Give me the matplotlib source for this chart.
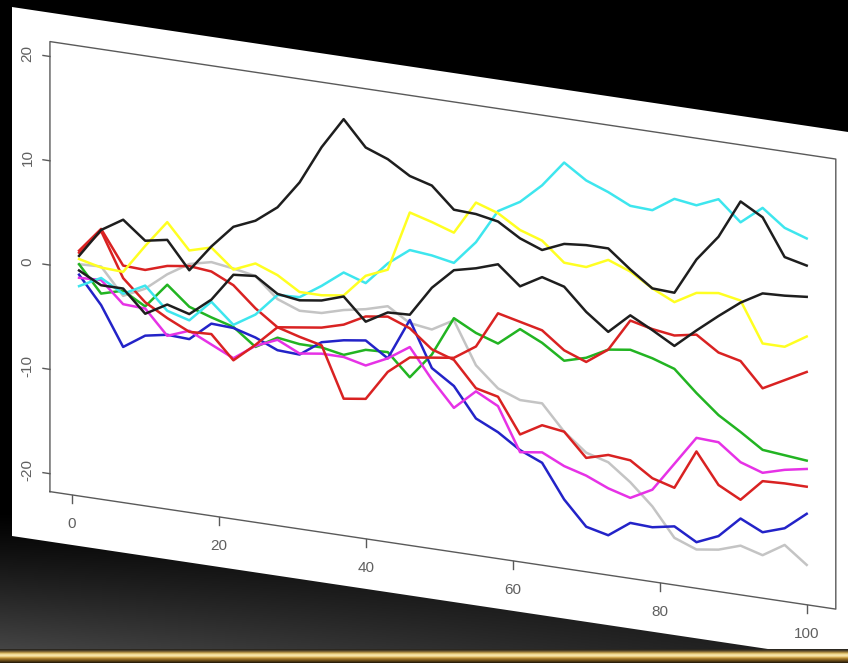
import numpy as np
import matplotlib
matplotlib.use("Agg")
from matplotlib import pyplot as plt
from matplotlib.transforms import Affine2D
from matplotlib.patches import Polygon

# time steps (every third step of the walk)
steps = [1, 4, 7, 10, 13, 16, 19, 22, 25, 28, 31, 34, 37, 40, 43, 46, 49,
         52, 55, 58, 61, 64, 67, 70, 73, 76, 79, 82, 85, 88, 91, 94, 97, 100]

black_a = [1.3, 4.1, 5.4, 3.7, 4.1, 1.5, 4.1, 6.3, 7.2, 8.8, 11.5, 15.2, 18.2, 15.8, 15.0, 13.7, 13.1,
           11.1, 11.0, 10.6, 9.3, 8.5, 9.4, 9.6, 9.6, 7.9, 6.4, 6.3, 9.8, 12.3, 16.0, 14.8, 11.3, 10.8]
black_b = [-0.1, -1.2, -1.2, -3.3, -2.1, -2.7, -1.0, 1.7, 1.9, 0.5, 0.2, 0.5, 1.2, -0.9, 0.3, 0.4, 3.3,
           5.3, 5.8, 6.5, 4.7, 5.9, 5.3, 3.2, 1.6, 3.5, 2.4, 1.2, 3.0, 4.7, 6.3, 7.5, 7.6, 7.8]
cyan = [-1.6, -0.5, -1.7, -0.6, -2.7, -3.3, -1.2, -3.1, -1.8, 0.4, 0.5, 1.9, 3.5, 2.8, 5.0, 6.6, 6.4,
        6.0, 8.3, 11.6, 12.8, 14.7, 17.2, 15.8, 15.0, 14.0, 13.9, 15.3, 15.0, 15.9, 14.0, 15.7, 14.1, 13.4]
yellow = [1.0, 0.5, 0.4, 3.2, 5.8, 3.4, 4.0, 2.2, 3.1, 2.3, 1.0, 1.0, 1.3, 3.5, 4.4, 10.2, 9.6,
          8.9, 12.1, 11.4, 10.1, 9.4, 7.6, 7.5, 8.5, 7.7, 6.4, 5.4, 6.6, 6.9, 6.5, 2.7, 2.7, 4.0]
grey = [0.5, 0.6, -1.9, -0.9, 0.8, 2.1, 2.6, 2.3, 1.9, 0.0, -0.8, -0.7, -0.1, 0.3, 0.9, -0.4, -0.7,
        0.5, -3.5, -5.4, -6.2, -6.2, -8.6, -10.3, -10.9, -12.5, -14.5, -17.2, -18.0, -17.7, -17.0, -17.6, -16.3, -17.9]
green = [0.5, -2.0, -1.4, -2.6, -0.2, -2.0, -2.7, -3.3, -4.9, -3.7, -4.0, -4.0, -4.4, -3.6, -3.5, -5.6, -3.1,
         0.7, -0.4, -1.1, 0.6, -0.4, -1.8, -1.2, -0.1, 0.2, -0.3, -1.0, -3.0, -4.8, -6.1, -7.5, -7.7, -7.9]
blue = [-0.5, -3.1, -6.8, -5.4, -5.0, -5.1, -3.3, -3.4, -4.0, -4.9, -5.0, -3.5, -3.0, -2.7, -4.1, -0.1, -4.4,
        -5.8, -8.6, -9.6, -11.0, -11.9, -15.1, -17.4, -17.9, -16.4, -16.5, -16.1, -17.3, -16.4, -14.4, -15.4, -14.7, -13.0]
magenta = [-0.8, -0.7, -2.7, -2.8, -5.1, -4.3, -5.3, -6.3, -4.8, -3.9, -4.9, -4.6, -4.6, -5.1, -4.1, -2.7, -5.5,
           -7.9, -6.0, -7.1, -11.2, -10.9, -11.9, -12.5, -13.4, -14.0, -12.9, -10.1, -7.3, -7.4, -9.0, -9.7, -9.1, -8.7]
red_a = [1.8, 4.2, 1.0, 0.9, 1.6, 1.9, 1.7, 0.7, -1.2, -2.7, -2.4, -2.1, -1.5, -0.4, -0.1, -0.9, -2.6,
         -3.3, -5.7, -6.2, -9.5, -8.3, -8.6, -10.8, -10.2, -10.4, -11.8, -12.4, -8.6, -11.5, -12.6, -10.5, -10.4, -10.4]
red_b = [1.6, 4.0, -0.2, -2.2, -3.4, -4.4, -4.3, -6.5, -4.7, -2.7, -3.3, -3.8, -8.6, -8.3, -5.4, -3.7, -3.4,
         -3.1, -1.7, 1.8, 1.3, 0.8, -0.8, -1.6, -0.1, 3.0, 2.5, 2.2, 2.6, 1.2, 0.7, -1.6, -0.5, 0.6]

x_ticks = [0, 20, 40, 60, 80, 100]
y_ticks = [-20, -10, 0, 10, 20]

W, H = 848, 663
fig = plt.figure(figsize=(W / 100, H / 100), dpi=100, facecolor="black")
ax = fig.add_axes([0, 0, 1, 1])
ax.set_facecolor("black")
ax.axis("off")

# floor under the slide: dark, lighter toward the lower left
fy = np.linspace(0, 1, 140)[:, None]
fx = np.linspace(0, 1, 200)[None, :]
floor = 0.27 * fy ** 1.2 * (1 - 0.6 * fx)
ax.imshow(np.dstack([floor] * 3), extent=(0, W, 650, 510), aspect="auto", zorder=0)

# gold rule at the very bottom
gold = ["#2c2820", "#4a3e28", "#7a6436", "#b09048", "#dcc070", "#f2dc9a", "#f6e4a8",
        "#ecd088", "#d0a850", "#aa8030", "#8a6420", "#6a4c18", "#4a3410", "#2a1e0a"]
gold_rgb = np.array([matplotlib.colors.to_rgb(c) for c in gold])[:, None, :]
ax.imshow(np.repeat(gold_rgb, 4, axis=1), extent=(0, W, 663, 649), aspect="auto", zorder=6)

# the tilted slide (vertical shear)
tilt = 0.1495
card = Polygon([(12, 7), (W + 12, 7 + tilt * W), (W + 12, 536 + tilt * W), (12, 536)],
               closed=True, facecolor="white", edgecolor="none", zorder=1)
ax.add_patch(card)

ax.set_xlim(0, W)
ax.set_ylim(H, 0)

# data -> picture: same shear as the slide
sx, ox = 7.35, 71.7
sy, oy = 10.43, 268.34
shear = Affine2D(np.array([[sx, 0, ox], [tilt * sx, -sy, oy], [0, 0, 1]]))
tr = shear + ax.transData

x0, x1 = -2.96, 103.96
y0, y1 = -21.72, 21.43
frame = "#5a5a5a"
ax.plot([x0, x1, x1, x0, x0], [y0, y0, y1, y1, y0], transform=tr, color=frame, lw=1.0, zorder=2)

for t in y_ticks:
    ax.plot([x0, x0 - 0.95], [t, t], transform=tr, color=frame, lw=1.0, zorder=2)
    ax.text(x0 - 3.05, t, str(t), transform=tr, rotation=90, ha="center", va="center",
            fontsize=11, color="#606060", family="Liberation Sans", zorder=3)
for t in x_ticks:
    ax.plot([t, t], [y0, y0 - 0.77], transform=tr, color=frame, lw=1.0, zorder=2)
    ax.text(t, y0 - 2.76, str(t), transform=tr, ha="center", va="center",
            fontsize=11, color="#606060", family="Liberation Sans", zorder=3)

series = [
    (grey, "#c4c4c4"),
    (green, "#22b422"),
    (blue, "#2323c8"),
    (magenta, "#e632e6"),
    (red_a, "#d92222"),
    (red_b, "#d92222"),
    (cyan, "#3ee6ee"),
    (yellow, "#ffff22"),
    (black_a, "#1e1e1e"),
    (black_b, "#1e1e1e"),
]
for vals, col in series:
    ax.plot(steps, vals, transform=tr, color=col, lw=1.8, solid_joinstyle="round", zorder=4)

fig.savefig("out.png", dpi=100, facecolor="black")
